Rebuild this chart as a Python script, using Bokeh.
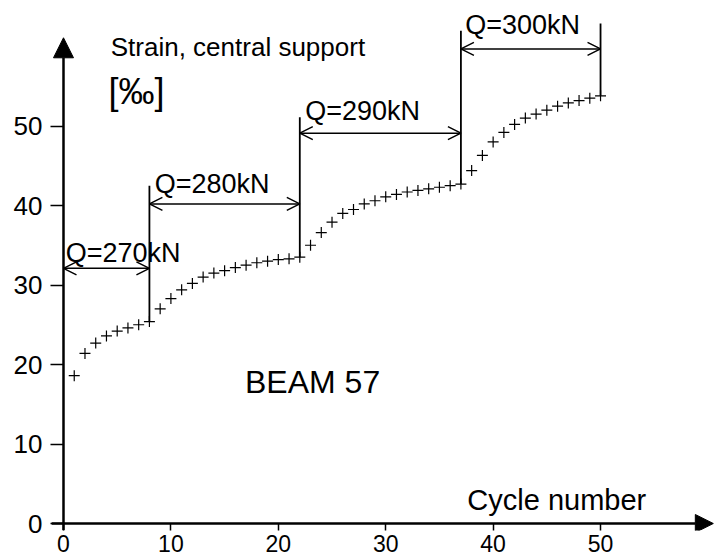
from bokeh.plotting import figure
from bokeh.models import Arrow, NormalHead, OpenHead, Range1d, FixedTicker, ColumnDataSource
from bokeh.core.properties import value
from bokeh.embed import file_html
from bokeh.resources import INLINE

# ---- data ----
cycles = list(range(1, 51))
strain = [18.6, 21.4, 22.7, 23.6, 24.2, 24.6, 25.0, 25.4, 27.0, 28.3,
          29.4, 30.2, 31.0, 31.5, 31.8, 32.2, 32.5, 32.8, 33.0, 33.2,
          33.3, 33.5, 35.0, 36.6, 37.9, 39.0, 39.5, 40.2, 40.6, 41.1,
          41.4, 41.7, 41.9, 42.1, 42.3, 42.5, 42.7, 44.4, 46.3, 48.0,
          49.2, 50.2, 51.0, 51.5, 52.0, 52.5, 52.9, 53.2, 53.5, 53.8]

load_labels = ["Q=270kN", "Q=280kN", "Q=290kN", "Q=300kN"]
stage_start = [0, 8, 22, 37]
stage_end = [8, 22, 37, 50]
arrow_level = [32.1, 40.2, 49.1, 59.7]
label_x = [0.2, 8.5, 22.5, 37.4]
label_y = [34.05, 42.75, 51.95, 62.65]

boundary_cycle = [8, 22, 37, 50]
boundary_top = [42.5, 51.1, 62.0, 62.9]

x_ticks = [0, 10, 20, 30, 40, 50]
y_ticks = [0, 10, 20, 30, 40, 50]

FONT = "Liberation Sans"
INK = "black"

p = figure(width=714, height=560, output_backend="svg", toolbar_location=None,
           x_range=Range1d(-1.21, 60.61), y_range=Range1d(-0.88, 65.79),
           min_border_left=50, min_border_right=0, min_border_top=0,
           min_border_bottom=30)
p.background_fill_color = "white"
p.border_fill_color = "white"
p.outline_line_color = None
p.grid.visible = False

for ax in (p.xaxis[0], p.yaxis[0]):
    ax.axis_line_color = None
    ax.major_tick_out = 0
    ax.minor_tick_line_color = None
    ax.major_tick_line_color = INK
    ax.major_tick_line_width = 1.5
    ax.major_label_text_font = FONT
    ax.major_label_text_color = INK

p.xaxis[0].ticker = FixedTicker(ticks=x_ticks)
p.xaxis[0].major_tick_in = 7
p.xaxis[0].major_label_standoff = 4
p.xaxis[0].major_label_text_font_size = "23px"

p.yaxis[0].ticker = FixedTicker(ticks=y_ticks)
p.yaxis[0].major_tick_in = 13
p.yaxis[0].major_label_standoff = 8
p.yaxis[0].major_label_text_font_size = "26px"

# axes drawn as arrows
p.add_layout(Arrow(end=NormalHead(size=20, fill_color=INK, line_color=INK),
                   x_start=0, y_start=-0.85, x_end=0, y_end=61.1,
                   line_color=INK, line_width=2.5))
p.add_layout(Arrow(end=NormalHead(size=18, fill_color=INK, line_color=INK),
                   x_start=-1.1, y_start=0, x_end=60.5, y_end=0,
                   line_color=INK, line_width=2.5))

# measured points
p.scatter(cycles, strain, marker="cross", size=11, line_color=INK, line_width=1.2)

# stage boundaries
bottoms = [strain[cycles.index(c)] for c in boundary_cycle]
p.segment(x0=boundary_cycle, y0=bottoms, x1=boundary_cycle, y1=boundary_top,
          line_color=INK, line_width=1.8)

# load-stage dimension arrows
src = ColumnDataSource(dict(x0=stage_start, x1=stage_end, y=arrow_level))
p.add_layout(Arrow(start=OpenHead(size=13, line_width=1.5, line_color=INK),
                   end=OpenHead(size=13, line_width=1.5, line_color=INK),
                   x_start="x0", y_start="y", x_end="x1", y_end="y",
                   source=src, line_color=INK, line_width=1.5))

p.text(x=label_x, y=label_y, text=load_labels, text_font=value(FONT),
       text_font_size=value("27px"), text_color=INK,
       text_align="left", text_baseline="alphabetic")

p.text(x=[4.4], y=[59.9], text=["Strain, central support"], text_font=value(FONT),
       text_font_size=value("26px"), text_color=INK,
       text_align="left", text_baseline="alphabetic")
p.text(x=[4.2], y=[54.3], text=["[‰]"], text_font=value(FONT),
       text_font_size=value("36px"), text_color=INK,
       text_align="left", text_baseline="middle")
p.text(x=[16.9], y=[17.85], text=["BEAM 57"], text_font=value(FONT),
       text_font_size=value("32px"), text_color=INK,
       text_align="left", text_baseline="alphabetic")
p.text(x=[37.6], y=[2.9], text=["Cycle number"], text_font=value(FONT),
       text_font_size=value("29px"), text_color=INK,
       text_align="left", text_baseline="alphabetic")

open("out.html", "w").write(file_html(p, INLINE))
